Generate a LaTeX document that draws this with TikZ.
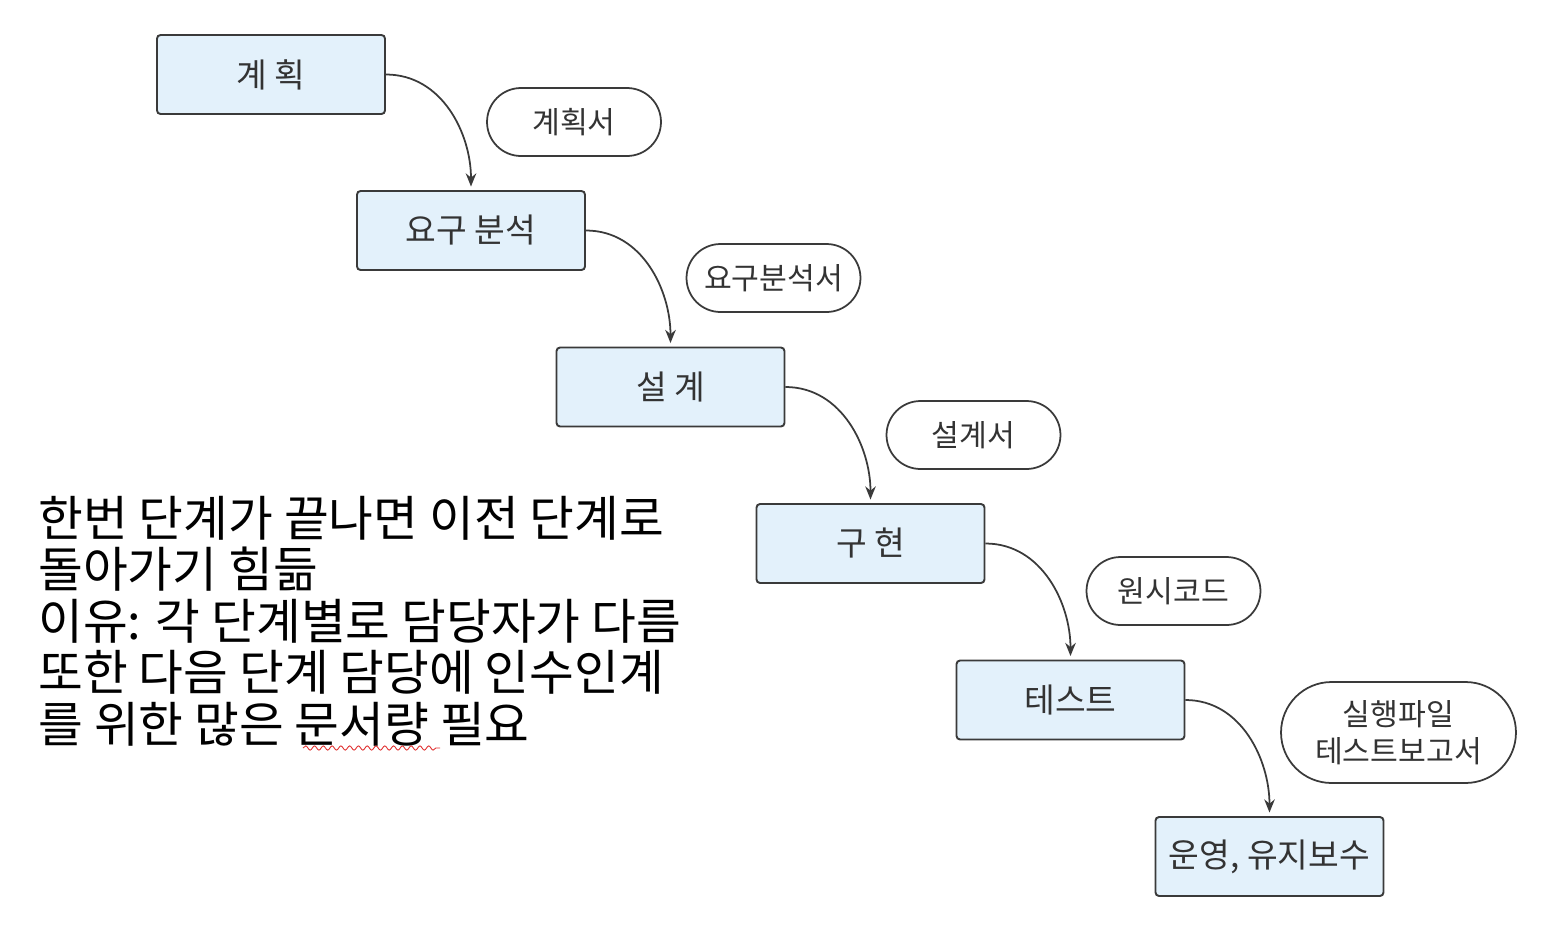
\documentclass[tikz,border=0pt]{standalone}
\usepackage{fontspec}
\setmainfont{Noto Sans CJK KR}
\usepackage{tikz}
\usetikzlibrary{arrows.meta,shapes.misc,decorations.pathmorphing}
\definecolor{boxfill}{HTML}{E3F1FB}
\definecolor{boxline}{HTML}{3A3A3A}
\definecolor{lbl}{HTML}{333333}
\definecolor{squig}{HTML}{E03030}

\begin{document}
\begin{tikzpicture}[x=0.02cm,y=-0.02cm,
  phase/.style={draw=boxline,fill=boxfill,line width=1.1pt,rounded corners=2pt,
    minimum width=4.56cm,minimum height=1.58cm,inner sep=0pt,text=lbl,
    font=\fontsize{19}{22}\selectfont},
  doc/.style={draw=boxline,rounded rectangle,line width=1pt,minimum width=3.48cm,
    minimum height=1.36cm,inner sep=0pt,text=lbl,align=center,
    font=\fontsize{17.2}{21}\selectfont},
  flow/.style={-{Stealth[length=7.5pt,width=6pt]},line width=1pt,draw=boxline,shorten >=2pt}]
  \useasboundingbox (0,0) rectangle (1546,948);
  % phases
  \node[phase] (plan) at (271,74.5) {계 획};
  \node[phase] (req) at (471,230.5) {요구 분석};
  \node[phase] (design) at (670.5,387) {설 계};
  \node[phase] (impl) at (870.5,543.5) {구 현};
  \node[phase] (test) at (1070.5,700) {테스트};
  \node[phase] (ops) at (1269.5,856.5) {운영, 유지보수};
  % outputs
  \node[doc] (plandoc) at (574,122) {계획서};
  \node[doc] (reqdoc) at (773.5,278) {요구분석서};
  \node[doc] (designdoc) at (973.5,435) {설계서};
  \node[doc] (src) at (1173.5,591) {원시코드};
  \node[doc,minimum width=4.7cm,minimum height=2.02cm] (testdoc) at (1398.5,732.5) {실행파일\\테스트보고서};
  % flow
  \draw[flow] (plan.east) to[out=0,in=90] (req.north);
  \draw[flow] (req.east) to[out=0,in=90] (design.north);
  \draw[flow] (design.east) to[out=0,in=90] (impl.north);
  \draw[flow] (impl.east) to[out=0,in=90] (test.north);
  \draw[flow] (test.east) to[out=0,in=90] (ops.north);
  % note
  \node[anchor=west,align=left,inner sep=0pt,font=\fontsize{27.7}{29.3}\selectfont] (why) at (38,621)
    {한번 단계가 끝나면 이전 단계로\\돌아가기 힘듦\\이유: 각 단계별로 담당자가 다름\\또한 다음 단계 담당에 인수인계\\를 위한 많은 문서량 필요};
  \draw[squig,line width=0.5pt,decorate,decoration={snake,amplitude=1.2,segment length=5}] (303,748) -- (440,748);
\end{tikzpicture}
\end{document}
